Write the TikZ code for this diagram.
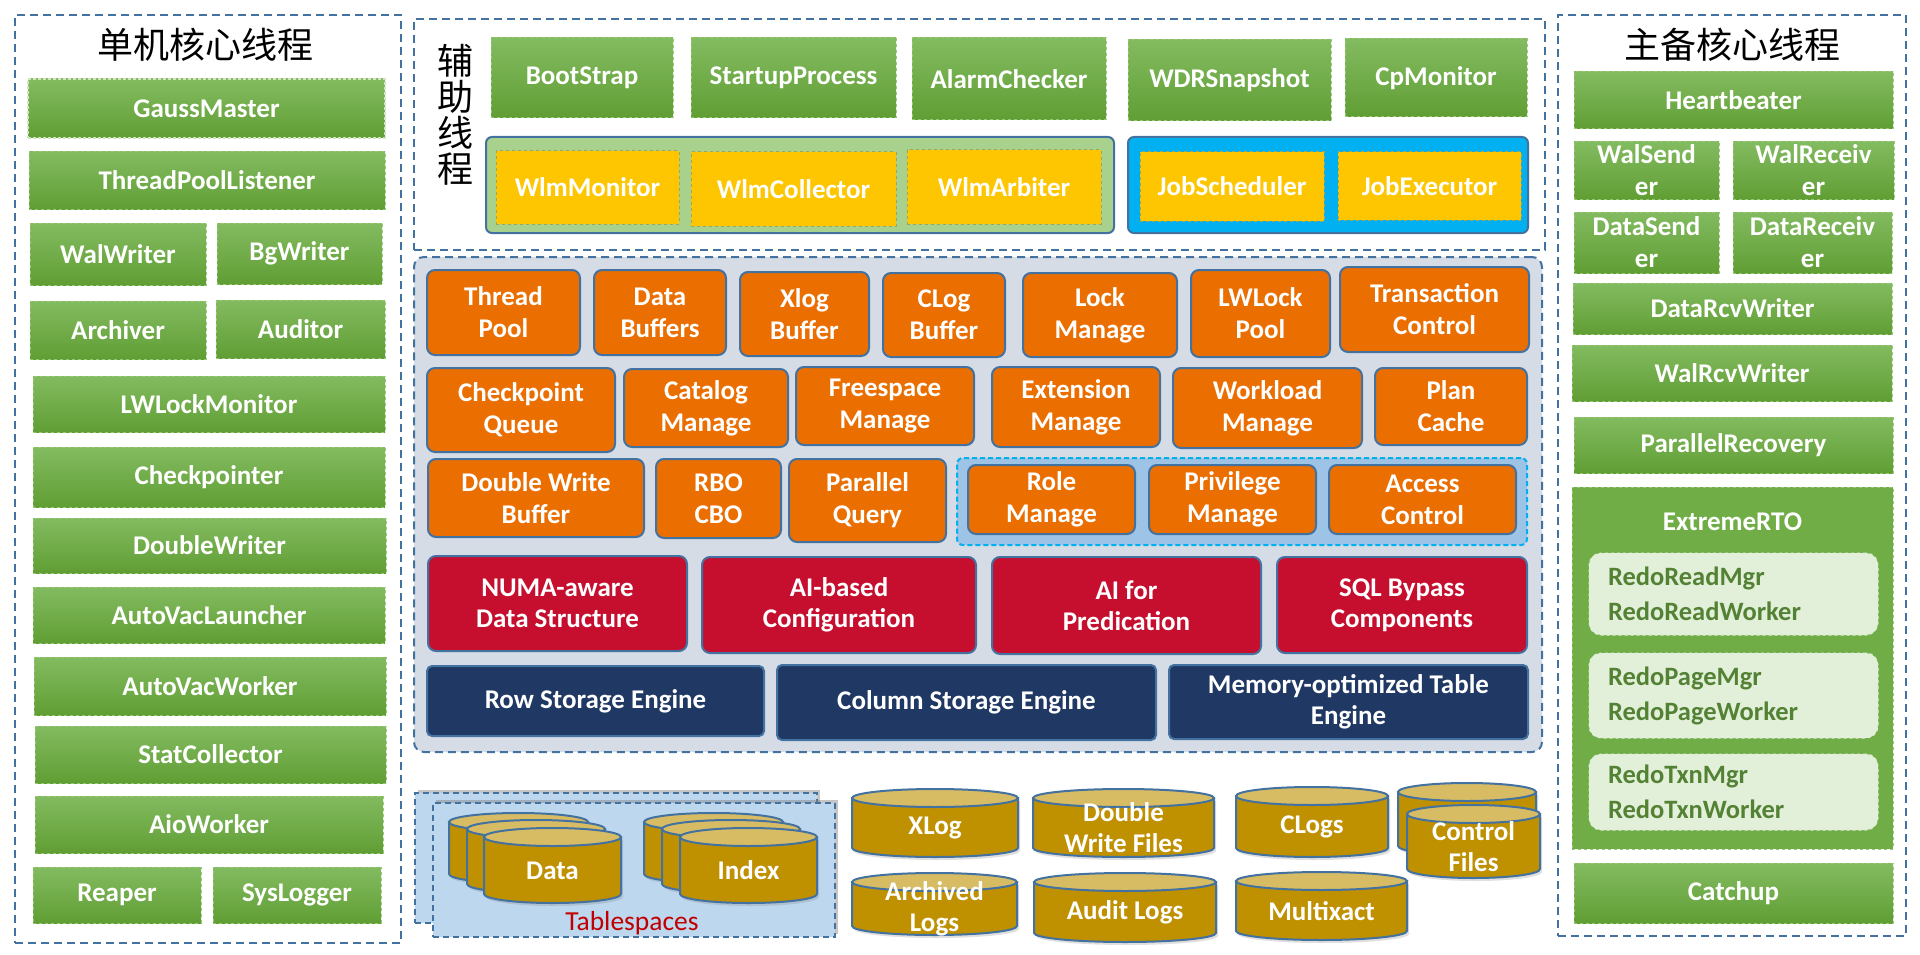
\documentclass[tikz,border=0pt]{standalone}
\usepackage{fontspec}
\setmainfont{Carlito}
\newfontfamily\cjk{Noto Sans CJK SC}
\usetikzlibrary{shadows}

\definecolor{pline}{RGB}{68,114,160}
\definecolor{gtop}{RGB}{131,187,96}
\definecolor{gbot}{RGB}{96,158,52}
\definecolor{gdash}{RGB}{150,200,120}
\definecolor{orng}{RGB}{235,110,0}
\definecolor{crim}{RGB}{198,14,46}
\definecolor{navyb}{RGB}{32,56,100}
\definecolor{yel}{RGB}{253,198,0}
\definecolor{cyanb}{RGB}{0,176,240}
\definecolor{lgreen}{RGB}{169,209,142}
\definecolor{midfill}{RGB}{214,220,229}
\definecolor{rolefill}{RGB}{157,195,230}
\definecolor{cylbody}{RGB}{191,144,0}
\definecolor{cyltop}{RGB}{216,188,100}
\definecolor{tsfill}{RGB}{189,215,238}
\definecolor{redofill}{RGB}{226,239,217}
\definecolor{redotext}{RGB}{84,130,53}
\definecolor{extfill}{RGB}{112,173,71}
\definecolor{tsred}{RGB}{192,0,0}
\definecolor{ydash}{RGB}{160,165,90}

\tikzset{
  x=1pt, y=-1pt,
  box/.style={inner sep=0pt, align=center, font=\bfseries\fontsize{27}{32}\selectfont, text=white},
  gbox/.style={box, top color=gtop, bottom color=gbot, draw=gdash, dashed, line width=1pt},
  gmbox/.style={box, top color=gtop, bottom color=gbot, draw=white!55!gdash, line width=2.5pt, dash pattern=on 3pt off 2pt},
  ybox/.style={box, fill=yel, draw=ydash, dashed, line width=1pt},
  obox/.style={box, fill=orng, draw=pline, line width=2pt, rounded corners=8pt},
  rbox/.style={box, fill=crim, draw=pline, line width=2pt, rounded corners=8pt, font=\bfseries\fontsize{27}{31}\selectfont},
  nbox/.style={box, fill=navyb, draw=pline, line width=2pt, rounded corners=5pt, font=\bfseries\fontsize{27}{31}\selectfont},
  panel/.style={inner sep=0pt, draw=pline, line width=2pt, dash pattern=on 8pt off 5pt},
  midpanel/.style={panel, fill=midfill, rounded corners=10pt},
  wlmcont/.style={inner sep=0pt, fill=lgreen, draw=pline, line width=2pt, rounded corners=6pt},
  jobcont/.style={inner sep=0pt, fill=cyanb, draw=pline, line width=2pt, rounded corners=6pt},
  rolegrp/.style={inner sep=0pt, fill=rolefill, draw=cyanb, line width=2pt, dash pattern=on 5pt off 3pt, rounded corners=6pt},
  extbox/.style={inner sep=0pt, fill=extfill, draw=gdash, dashed, line width=1pt},
  redobox/.style={inner ysep=0pt, inner xsep=19pt, fill=redofill, draw=white!70!gdash, dashed, line width=1pt, rounded corners=12pt, text=redotext, align=left, font=\bfseries\fontsize{26.5}{35}\selectfont, text width=251pt},
  tsbox/.style={inner sep=0pt, fill=tsfill, draw=pline, line width=1.5pt, dash pattern=on 6pt off 4pt, drop shadow={opacity=0.45, shadow xshift=3pt, shadow yshift=3pt}},
  cylb/.style={fill=cylbody, draw=pline, line width=2pt, drop shadow={opacity=0.25, shadow xshift=2pt, shadow yshift=-3pt}},
  cylt/.style={fill=cyltop, draw=pline, line width=2pt},
  cyltext/.style={inner sep=0pt, align=center, text=white, font=\bfseries\fontsize{27}{31}\selectfont},
  cjktitle/.style={font=\cjk\fontsize{36}{36}\selectfont, align=center}
}

% style, name, x1, y1, x2, y2, text
\newcommand\bx[7]{\node[#1, minimum width={(#5-#3)*1pt}, minimum height={(#6-#4)*1pt}] (#2) at ({(#3+#5)/2},{(#4+#6)/2}) {#7};}

% name, x1, ytop, x2, ybottom, text
\newcommand\cyl[6]{%
  \pgfmathsetmacro\cylcx{(#2+#4)/2}%
  \pgfmathsetmacro\cylrx{(#4-#2)/2}%
  \filldraw[cylb] ({#2},{#3+9}) -- ({#2},{#5-9}) arc[start angle=180, end angle=0, x radius=\cylrx, y radius=9] -- ({#4},{#3+9}) -- cycle;
  \filldraw[cylt] ({\cylcx},{#3+9}) ellipse[x radius=\cylrx, y radius=9];
  \node[cyltext] (#1) at ({\cylcx},{(#3+#5)/2+5}) {#6};
}

\begin{document}
\begin{tikzpicture}
\useasboundingbox[fill=white] (0,0) rectangle (1920,955);

% ---------- left panel ----------
\bx{panel}{leftp}{15}{15}{401}{943}{}
\node[cjktitle] (t1) at (205,45) {单机核心线程};
\bx{gmbox}{gm}{28}{79}{385}{138}{GaussMaster}
\bx{gbox}{tpl}{29}{152}{385}{209}{ThreadPoolListener}
\bx{gbox}{ww}{30}{223}{206}{285}{WalWriter}
\bx{gbox}{bgw}{217}{223}{382}{284}{BgWriter}
\bx{gbox}{arch}{30}{301}{206}{359}{Archiver}
\bx{gbox}{aud}{216}{300}{385}{358}{Auditor}
\bx{gbox}{lwm}{33}{376}{385}{432}{LWLockMonitor}
\bx{gbox}{ckp}{33}{447}{385}{507}{Checkpointer}
\bx{gbox}{dwr}{33}{518}{386}{573}{DoubleWriter}
\bx{gbox}{avl}{33}{587}{385}{643}{AutoVacLauncher}
\bx{gbox}{avw}{34}{657}{386}{715}{AutoVacWorker}
\bx{gbox}{stc}{35}{726}{386}{783}{StatCollector}
\bx{gbox}{aio}{35}{796}{383}{853}{AioWorker}
\bx{gbox}{rpr}{33}{867}{201}{923}{Reaper}
\bx{gbox}{slg}{213}{867}{381}{923}{SysLogger}

% ---------- top panel ----------
\bx{panel}{topp}{414}{19}{1545}{250}{}
\node[cjktitle] (aux) at (455,115) {辅\\助\\线\\程};
\bx{gbox}{bs}{491}{38}{673}{118}{BootStrap}
\bx{gbox}{spr}{691}{38}{896}{118}{StartupProcess}
\bx{gbox}{alc}{912}{38}{1106}{120}{AlarmChecker}
\bx{gbox}{wdr}{1128}{40}{1331}{121}{WDRSnapshot}
\bx{gbox}{cpm}{1345}{39}{1527}{117}{CpMonitor}
\bx{wlmcont}{wlmc}{486}{137}{1114}{233}{}
\bx{ybox}{wmo}{496}{151}{679}{224}{WlmMonitor}
\bx{ybox}{wco}{691}{152}{896}{226}{WlmCollector}
\bx{ybox}{war}{907}{150}{1101}{224}{WlmArbiter}
\bx{jobcont}{jobc}{1128}{137}{1528}{233}{}
\bx{ybox}{jsc}{1140}{152}{1324}{221}{JobScheduler}
\bx{ybox}{jex}{1338}{152}{1521}{220}{JobExecutor}

% ---------- middle panel ----------
\bx{midpanel}{midp}{414}{257}{1542}{752}{}
\bx{obox}{tp}{427}{270}{580}{355}{Thread\\Pool}
\bx{obox}{dbuf}{594}{270}{726}{355}{Data\\Buffers}
\bx{obox}{xbuf}{740}{272}{869}{356}{Xlog\\Buffer}
\bx{obox}{cbuf}{883}{273}{1005}{357}{CLog\\Buffer}
\bx{obox}{lkm}{1023}{273}{1177}{357}{Lock\\Manage}
\bx{obox}{lwp}{1191}{270}{1330}{357}{LWLock\\Pool}
\bx{obox}{txc}{1340}{267}{1529}{352}{Transaction\\Control}
\bx{obox}{cpq}{427}{368}{615}{452}{Checkpoint\\Queue}
\bx{obox}{catm}{624}{369}{788}{447}{Catalog\\Manage}
\bx{obox}{fsm}{796}{367}{974}{445}{Freespace\\Manage}
\bx{obox}{extm}{992}{367}{1160}{447}{Extension\\Manage}
\bx{obox}{wlm}{1173}{368}{1362}{448}{Workload\\Manage}
\bx{obox}{plc}{1375}{368}{1527}{445}{Plan\\Cache}
\bx{obox}{dwb}{428}{459}{644}{537}{Double Write\\Buffer}
\bx{obox}{rbo}{656}{459}{781}{538}{RBO\\CBO}
\bx{obox}{parq}{789}{459}{946}{542}{Parallel\\Query}
\bx{rolegrp}{rgrp}{957}{458}{1527}{545}{}
\bx{obox}{rolm}{968}{465}{1135}{534}{Role\\Manage}
\bx{obox}{prvm}{1149}{465}{1316}{534}{Privilege\\Manage}
\bx{obox}{accc}{1329}{465}{1516}{534}{Access\\Control}
\bx{rbox}{numa}{428}{556}{687}{651}{NUMA-aware\\Data Structure}
\bx{rbox}{aicf}{702}{557}{976}{653}{AI-based\\Configuration}
\bx{rbox}{aipr}{992}{557}{1261}{654}{AI for\\Predication}
\bx{rbox}{sqlb}{1277}{557}{1527}{653}{SQL Bypass\\Components}
\bx{nbox}{rse}{427}{666}{764}{736}{Row Storage Engine}
\bx{nbox}{cse}{777}{665}{1156}{740}{Column Storage Engine}
\bx{nbox}{mot}{1169}{665}{1528}{739}{Memory-optimized Table\\Engine}

% ---------- storage ----------
\bx{tsbox}{tsback}{415}{793}{817}{923}{}
\bx{tsbox}{tsfront}{433}{803}{835}{937}{}
\cyl{datab}{449}{813}{588}{883}{}
\cyl{datam}{467}{820}{605}{893}{}
\cyl{dataf}{484}{828}{621}{903}{Data}
\cyl{idxb}{644}{813}{783}{883}{}
\cyl{idxm}{662}{820}{800}{893}{}
\cyl{idxf}{680}{828}{817}{903}{Index}
\node[font=\fontsize{27.5}{30}\selectfont, text=tsred, inner sep=0pt] (tslabel) at (632,923) {Tablespaces};
\cyl{xlog}{852}{789}{1018}{857}{XLog}
\cyl{arcl}{852}{873}{1017}{935}{Archived\\Logs}
\cyl{dwf}{1033}{789}{1214}{857}{Double\\Write Files}
\cyl{audl}{1034}{873}{1216}{942}{Audit Logs}
\cyl{clogs}{1236}{787}{1388}{857}{CLogs}
\cyl{mxact}{1236}{872}{1407}{940}{Multixact}
\cyl{ctlb}{1398}{783}{1536}{855}{}
\cyl{ctlf}{1407}{805}{1540}{878}{Control\\Files}

% ---------- right panel ----------
\bx{panel}{rightp}{1558}{15}{1906}{936}{}
\node[cjktitle] (t2) at (1732,45) {主备核心线程};
\bx{gbox}{hb}{1574}{72}{1893}{129}{Heartbeater}
\bx{gbox}{wsd}{1574}{142}{1719}{199}{WalSend\\er}
\bx{gbox}{wrc}{1733}{142}{1894}{199}{WalReceiv\\er}
\bx{gbox}{dsd}{1574}{212}{1719}{273}{DataSend\\er}
\bx{gbox}{drc}{1733}{212}{1892}{273}{DataReceiv\\er}
\bx{gbox}{drw}{1573}{283}{1892}{334}{DataRcvWriter}
\bx{gbox}{wrw}{1572}{345}{1892}{401}{WalRcvWriter}
\bx{gbox}{prc}{1574}{417}{1893}{473}{ParallelRecovery}
\node[extbox, minimum width=321pt, minimum height=362pt,
  label={[anchor=center, yshift=-35pt, text=white, font=\bfseries\fontsize{27}{30}\selectfont]north:ExtremeRTO}]
  (ertO) at (1732.5,668) {};
\bx{redobox}{rread}{1589}{553}{1878}{635}{RedoReadMgr\\RedoReadWorker}
\bx{redobox}{rpage}{1589}{653}{1878}{738}{RedoPageMgr\\RedoPageWorker}
\bx{redobox}{rtxn}{1589}{754}{1878}{830}{RedoTxnMgr\\RedoTxnWorker}
\bx{gbox}{cup}{1574}{863}{1893}{923}{Catchup}
\end{tikzpicture}
\end{document}
